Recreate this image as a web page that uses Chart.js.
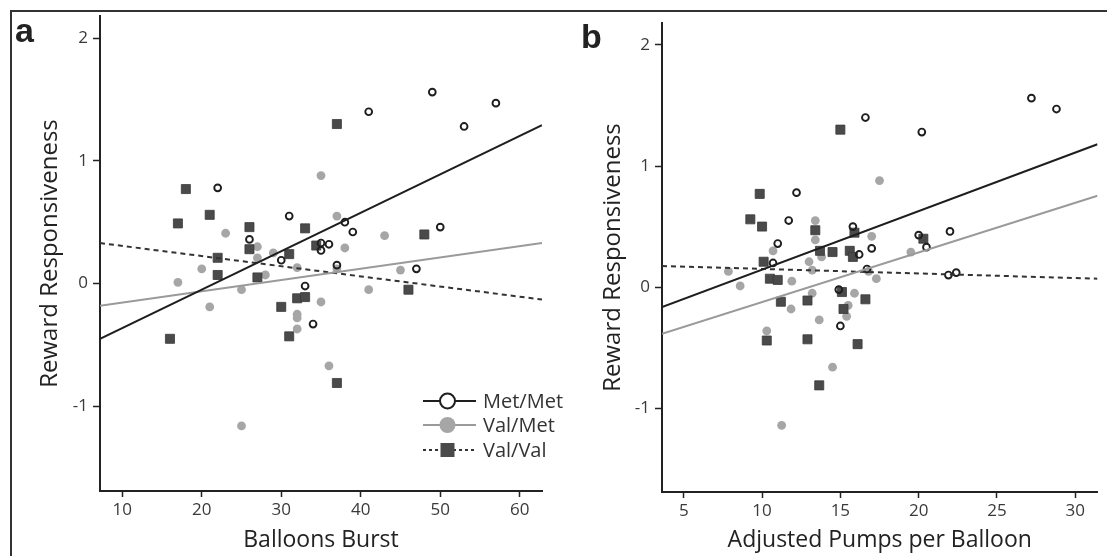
<!DOCTYPE html>
<html>
<head>
<meta charset="utf-8">
<script src="https://cdn.jsdelivr.net/npm/chart.js@4.4.0/dist/chart.umd.min.js"></script>
<style>
  body { margin: 0; background: #fff; }
  #wrap { position: relative; width: 1107px; height: 556px; overflow: hidden; background: #fff; }
  #frame { position: absolute; left: 10px; top: 10px; width: 1110px; height: 560px;
           border-top: 2px solid #333; border-left: 2px solid #333; }
  canvas { position: absolute; top: 0; }
  #chartA { left: 0; }
  #chartB { left: 575px; }
</style>
</head>
<body>
<div id="wrap">
  <div id="frame"></div>
  <canvas id="chartA" width="575" height="556"></canvas>
  <canvas id="chartB" width="532" height="556"></canvas>
</div>
<script>
// series names
const groups = ['Met/Met', 'Val/Met', 'Val/Val'];

// panel a: Balloons Burst
const xA_metMet = [49, 57, 41, 53, 22, 31, 38, 50, 39, 26, 36, 35, 35, 30, 37, 47, 33, 34];
const yA_metMet = [1.56, 1.47, 1.40, 1.28, 0.78, 0.55, 0.50, 0.46, 0.42, 0.36, 0.32, 0.33, 0.27, 0.19, 0.15, 0.12, -0.02, -0.33];
const xA_valMet = [17, 20, 21, 23, 25, 25, 27, 27, 28, 29, 32, 32, 32, 32, 35, 35, 36, 37, 37, 38, 41, 43, 45];
const yA_valMet = [0.01, 0.12, -0.19, 0.41, -0.05, -1.16, 0.30, 0.21, 0.07, 0.25, 0.13, -0.25, -0.28, -0.37, 0.88, -0.15, -0.67, 0.55, 0.12, 0.29, -0.05, 0.39, 0.11];
const xA_valVal = [16, 17, 18, 21, 22, 22, 26, 26, 27, 30, 31, 31, 32, 33, 33, 34.4, 37, 37, 46, 48];
const yA_valVal = [-0.45, 0.49, 0.77, 0.56, 0.21, 0.07, 0.46, 0.28, 0.05, -0.19, 0.24, -0.43, -0.12, 0.45, -0.11, 0.31, 1.30, -0.81, -0.05, 0.40];
// fitted lines (value at left and right end of the x axis)
const xA_range = [7.2, 62.8];
const fitA_metMet = [-0.45, 1.29];
const fitA_valMet = [-0.18, 0.33];
const fitA_valVal = [0.33, -0.13];
const xA_ticks = [10, 20, 30, 40, 50, 60];

// panel b: Adjusted Pumps per Balloon
const xB_metMet = [27.2, 28.8, 16.6, 20.2, 12.2, 11.7, 15.8, 22.0, 20.0, 11.0, 17.0, 20.5, 16.2, 10.7, 16.7, 22.4, 21.9, 14.9, 15.0];
const yB_metMet = [1.56, 1.47, 1.40, 1.28, 0.78, 0.55, 0.50, 0.46, 0.43, 0.36, 0.32, 0.33, 0.27, 0.20, 0.15, 0.12, 0.10, -0.02, -0.32];
const xB_valMet = [17.5, 13.4, 13.4, 17.0, 10.7, 13.8, 13.0, 19.5, 7.85, 13.2, 16.8, 17.3, 8.6, 11.9, 13.2, 15.9, 15.5, 11.85, 15.4, 13.65, 10.3, 14.5, 11.25];
const yB_valMet = [0.88, 0.55, 0.39, 0.42, 0.30, 0.25, 0.21, 0.29, 0.13, 0.14, 0.13, 0.07, 0.01, 0.05, -0.05, -0.05, -0.15, -0.18, -0.24, -0.27, -0.36, -0.66, -1.14];
const xB_valVal = [15.0, 9.85, 9.25, 10.0, 13.4, 15.9, 20.3, 13.7, 14.5, 15.6, 15.8, 10.1, 10.5, 11.0, 11.2, 12.9, 16.6, 15.1, 15.2, 10.3, 12.9, 16.1, 13.65];
const yB_valVal = [1.30, 0.77, 0.56, 0.50, 0.47, 0.45, 0.40, 0.30, 0.29, 0.30, 0.25, 0.21, 0.07, 0.06, -0.12, -0.11, -0.10, -0.04, -0.18, -0.44, -0.43, -0.47, -0.81];
const xB_range = [3.61, 31.42];
const fitB_metMet = [-0.165, 1.18];
const fitB_valMet = [-0.385, 0.755];
const fitB_valVal = [0.175, 0.07];
const xB_ticks = [5, 10, 15, 20, 25, 30];

// shared y axis
const y_range = [-1.69, 2.18];
const y_ticks = [-1, 0, 1, 2];

const FONT = '"Open Sans", "Noto Sans", sans-serif';
const INK = '#1e1e1e';
const GRAY = '#a6a6a6';
const DARK = '#4a4a4a';

function pts(xs, ys) {
  return xs.map((x, i) => ({ x: x, y: ys[i] }));
}

// panel letter drawn on the canvas
function letterPlugin(letter, x, y) {
  return {
    id: 'panelLetter',
    afterDraw(chart) {
      const ctx = chart.ctx;
      ctx.save();
      ctx.font = 'bold 34px "Liberation Sans", Arial, sans-serif';
      ctx.fillStyle = '#222';
      ctx.textBaseline = 'alphabetic';
      ctx.fillText(letter, x, y);
      ctx.restore();
    }
  };
}

// legend with line + marker, like the original figure
const groupLegend = {
  id: 'groupLegend',
  afterDraw(chart) {
    const ctx = chart.ctx;
    const rows = [401, 425, 450];
    ctx.save();
    rows.forEach((y, i) => {
      ctx.beginPath();
      ctx.lineWidth = 2;
      if (i === 0) { ctx.strokeStyle = INK; ctx.setLineDash([]); }
      if (i === 1) { ctx.strokeStyle = '#9a9a9a'; ctx.setLineDash([]); }
      if (i === 2) { ctx.strokeStyle = '#333'; ctx.setLineDash([3, 3]); }
      ctx.moveTo(423, y);
      ctx.lineTo(476, y);
      ctx.stroke();
      ctx.setLineDash([]);
      ctx.beginPath();
      if (i === 0) {
        ctx.arc(447.5, y, 7.5, 0, Math.PI * 2);
        ctx.fillStyle = '#fff';
        ctx.fill();
        ctx.strokeStyle = INK;
        ctx.stroke();
      } else if (i === 1) {
        ctx.arc(447.5, y, 8, 0, Math.PI * 2);
        ctx.fillStyle = GRAY;
        ctx.fill();
      } else {
        ctx.fillStyle = DARK;
        ctx.fillRect(440.5, y - 7, 14, 14);
      }
      ctx.font = '20px ' + FONT;
      ctx.fillStyle = '#333';
      ctx.textBaseline = 'middle';
      ctx.fillText(groups[i], 483, y + 1);
    });
    ctx.restore();
  }
};

function makePanel(id, p) {
  const datasets = [
    { label: groups[0] + ' fit', data: pts(p.range, p.fit[0]), showLine: true, borderColor: INK,
      borderWidth: 2, pointRadius: 0, order: 0 },
    { label: groups[1] + ' fit', data: pts(p.range, p.fit[1]), showLine: true, borderColor: '#9a9a9a',
      borderWidth: 2, pointRadius: 0, order: 0 },
    { label: groups[2] + ' fit', data: pts(p.range, p.fit[2]), showLine: true, borderColor: '#333',
      borderWidth: 2, borderDash: [5, 4], pointRadius: 0, order: 0 },
    { label: groups[0], data: pts(p.xs[0], p.ys[0]), pointStyle: 'circle', pointRadius: 3.4,
      pointBorderWidth: 1.9, pointBorderColor: INK, pointBackgroundColor: 'rgba(255,255,255,0)', order: 1 },
    { label: groups[2], data: pts(p.xs[2], p.ys[2]), pointStyle: 'rect', pointRadius: 6.4,
      pointBorderWidth: 0.8, pointBorderColor: '#3a3a3a', pointBackgroundColor: DARK, order: 2 },
    { label: groups[1], data: pts(p.xs[1], p.ys[1]), pointStyle: 'circle', pointRadius: 4.4,
      pointBorderWidth: 0, pointBackgroundColor: GRAY, order: 3 }
  ];

  const plugins = [letterPlugin(p.letter, p.letterX, p.letterY)];
  if (p.legend) plugins.push(groupLegend);

  return new Chart(document.getElementById(id), {
    type: 'scatter',
    data: { datasets: datasets },
    options: {
      responsive: false,
      animation: false,
      events: [],
      layout: { padding: { top: p.top, right: p.right, bottom: 0, left: 0 } },
      plugins: { legend: { display: false }, tooltip: { enabled: false } },
      scales: {
        x: {
          type: 'linear',
          min: p.range[0],
          max: p.range[1],
          afterBuildTicks: s => { s.ticks = p.xticks.map(v => ({ value: v })); },
          afterFit: s => { s.height = p.xHeight; },
          grid: { drawOnChartArea: false, drawTicks: true, tickLength: 6, tickColor: '#222', tickWidth: 1.5 },
          border: { display: true, color: '#222', width: 2 },
          ticks: { color: '#3a3a3a', padding: 3, maxRotation: 0, font: { family: FONT, size: 17 } },
          title: { display: true, text: p.xTitle, color: '#222', padding: { top: 0, bottom: 2 },
                   font: { family: FONT, size: 23 } }
        },
        y: {
          type: 'linear',
          min: y_range[0],
          max: y_range[1],
          afterBuildTicks: s => { s.ticks = y_ticks.map(v => ({ value: v })); },
          afterFit: s => { s.width = p.yWidth; },
          grid: { drawOnChartArea: false, drawTicks: true, tickLength: 7, tickColor: '#222', tickWidth: 1.5 },
          border: { display: true, color: '#222', width: 2 },
          ticks: { color: '#3a3a3a', padding: 5, font: { family: FONT, size: 17 } },
          title: { display: true, text: 'Reward Responsiveness', color: '#222',
                   padding: { top: p.yTitlePad, bottom: 0 }, font: { family: FONT, size: 24 } }
        }
      }
    },
    plugins: plugins
  });
}

makePanel('chartA', {
  letter: 'a', letterX: 15, letterY: 42, legend: true,
  xs: [xA_metMet, xA_valMet, xA_valVal], ys: [yA_metMet, yA_valMet, yA_valVal],
  range: xA_range, fit: [fitA_metMet, fitA_valMet, fitA_valVal], xticks: xA_ticks,
  xTitle: 'Balloons Burst',
  top: 16, right: 33, xHeight: 65, yWidth: 100, yTitlePad: 36
});

makePanel('chartB', {
  letter: 'b', letterX: 6, letterY: 48, legend: false,
  xs: [xB_metMet, xB_valMet, xB_valVal], ys: [yB_metMet, yB_valMet, yB_valVal],
  range: xB_range, fit: [fitB_metMet, fitB_valMet, fitB_valVal], xticks: xB_ticks,
  xTitle: 'Adjusted Pumps per Balloon',
  top: 23, right: 9.5, xHeight: 64, yWidth: 87, yTitlePad: 24
});
</script>
</body>
</html>
